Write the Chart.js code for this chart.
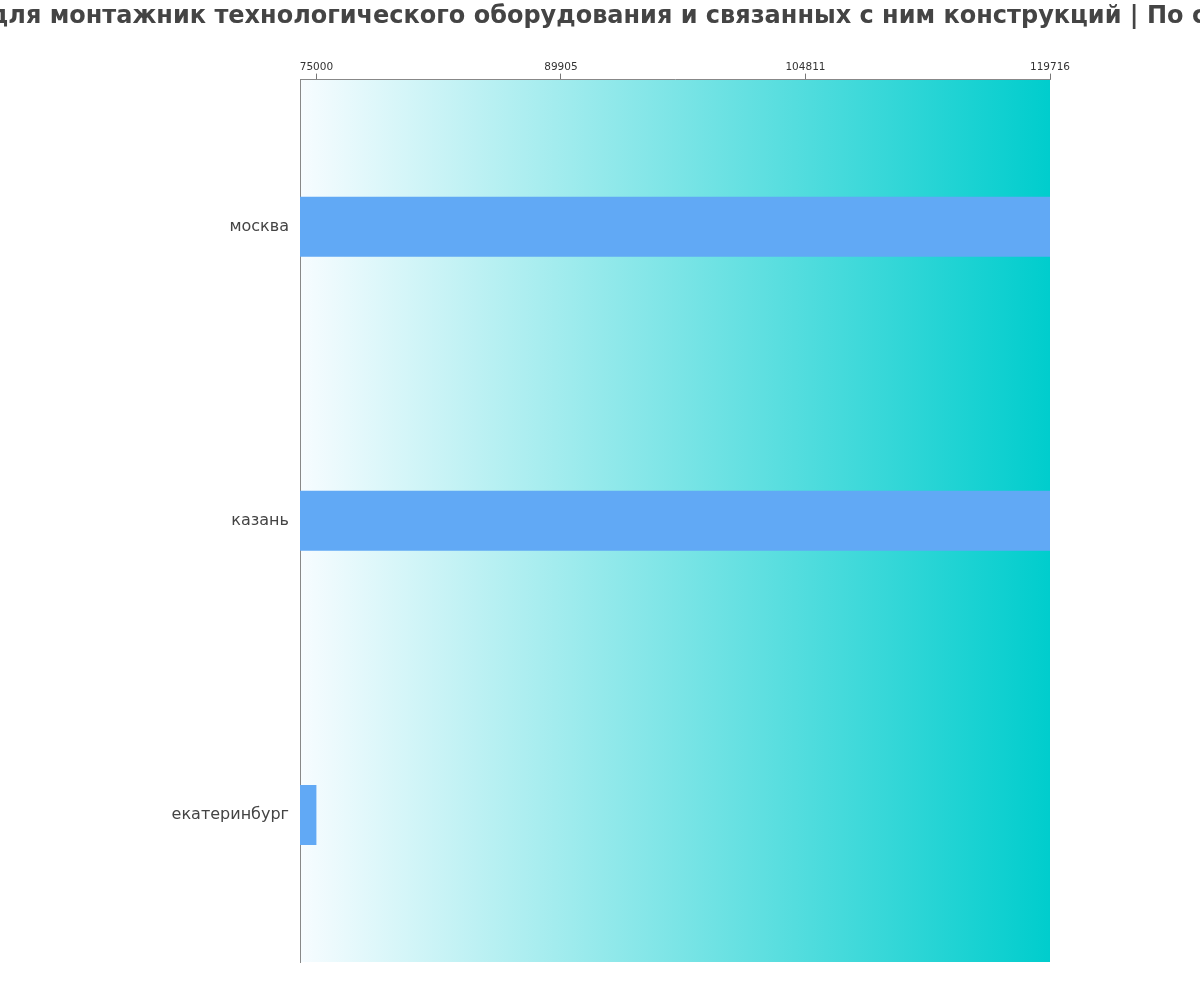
<!DOCTYPE html>
<html>
<head>
<meta charset="utf-8">
<script src="https://cdn.jsdelivr.net/npm/chart.js@4/dist/chart.umd.min.js"></script>
<style>
  html, body { margin: 0; padding: 0; background: #fff; overflow: hidden; }
  #wrap { position: relative; width: 1200px; height: 1000px; overflow: hidden; }
  #title {
    position: absolute; top: 0; left: 597px; transform: translateX(-50%);
    white-space: nowrap; margin: 0;
    font: bold 24px 'DejaVu Sans'; line-height: 31px; color: #444;
  }
</style>
</head>
<body>
<div id="wrap">
  <h1 id="title"></h1>
  <canvas id="salary-chart"></canvas>
</div>
<script>
// Values
const cities = ['москва', 'казань', 'екатеринбург'];
const salaries = [119716, 119716, 75000];
const tickValues = [75000, 89905, 104811, 119716];
const axisMin = 74000;
const axisMax = 119716;
const chartTitle = 'Зарплата для монтажник технологического оборудования и связанных с ним конструкций | По сравнению';

document.getElementById('title').textContent = chartTitle;

// Paint the chart area with a white -> turquoise gradient first, so axes and bars sit on top
const areaGradient = {
  id: 'areaGradient',
  beforeDraw(chart) {
    const { ctx, chartArea } = chart;
    if (!chartArea) return;
    const g = ctx.createLinearGradient(chartArea.left, 0, chartArea.right, 0);
    g.addColorStop(0, '#f7fcff');
    g.addColorStop(1, '#00cdcd');
    ctx.save();
    ctx.fillStyle = g;
    ctx.fillRect(chartArea.left, chartArea.top, chartArea.right - chartArea.left, chartArea.bottom - chartArea.top);
    ctx.restore();
  },
};

new Chart(document.getElementById('salary-chart'), {
  type: 'bar',
  data: {
    labels: cities,
    datasets: [{
      data: salaries,
      backgroundColor: '#61a9f5',
      borderWidth: 0,
      barPercentage: 0.68,
      categoryPercentage: 0.3,
    }],
  },
  plugins: [areaGradient],
  options: {
    indexAxis: 'y',
    responsive: true,
    maintainAspectRatio: false,
    animation: false,
    layout: { padding: { left: 0, right: 150, top: 61, bottom: 38 } },
    plugins: {
      legend: { display: false },
      tooltip: { enabled: false },
      title: { display: false },
    },
    scales: {
      x: {
        position: 'top',
        min: axisMin,
        max: axisMax,
        afterBuildTicks: axis => { axis.ticks = tickValues.map(v => ({ value: v })); },
        grid: { drawOnChartArea: false, drawTicks: true, tickLength: 6, color: '#777' },
        border: { display: true, color: '#888' },
        ticks: {
          color: '#333',
          font: { family: 'DejaVu Sans', size: 10.5 },
          padding: 0,
          maxRotation: 0,
          autoSkip: false,
          callback: v => String(v),
        },
      },
      y: {
        afterFit: axis => { axis.width = 300; },
        grid: { display: false, drawTicks: false },
        border: { display: true, color: '#888' },
        ticks: {
          color: '#444',
          font: { family: 'DejaVu Sans', size: 16 },
          padding: 11,
        },
      },
    },
  },
});
</script>
</body>
</html>
